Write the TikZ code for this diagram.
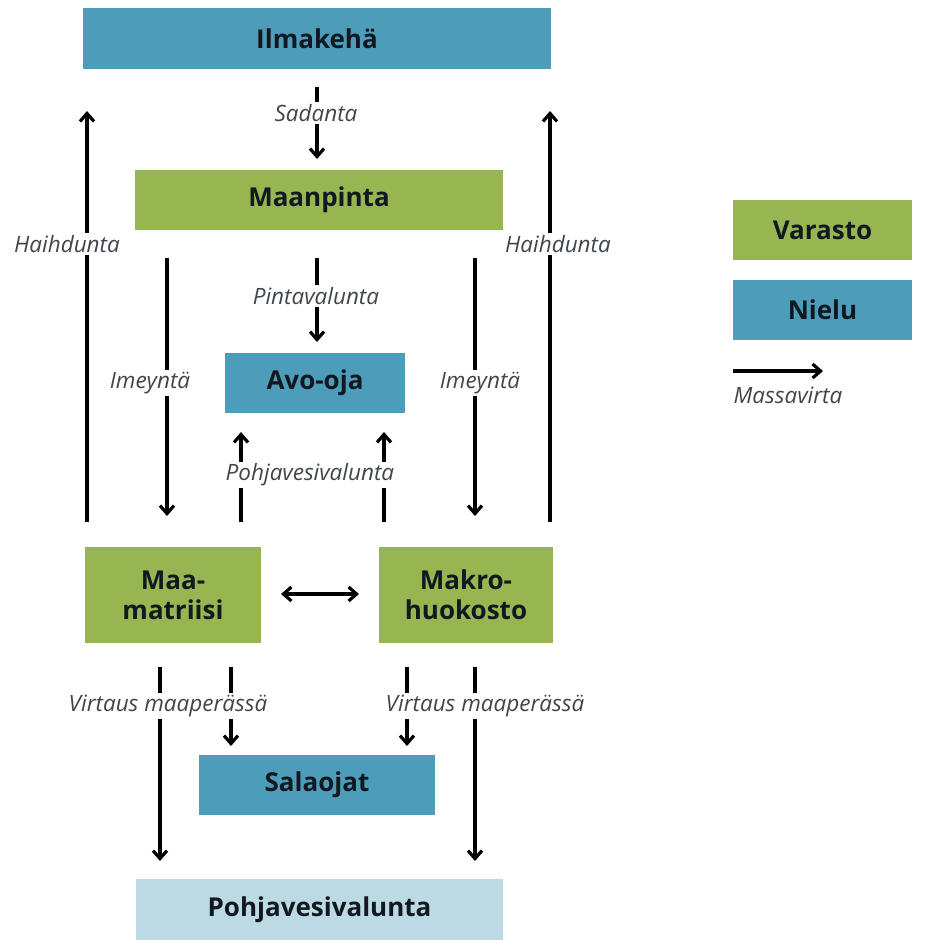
\documentclass[tikz,border=0pt]{standalone}
\usepackage{fontspec}
\setmainfont{Open Sans}
\usetikzlibrary{arrows.meta,calc}
\definecolor{sinkblue}{RGB}{76,156,186}
\definecolor{storegreen}{RGB}{151,182,82}
\definecolor{lightsink}{RGB}{188,218,228}
\definecolor{txt}{RGB}{18,24,32}
\tikzset{
  box/.style={draw=none,inner sep=0pt,text=txt,font=\fontsize{26}{30}\selectfont\bfseries,align=center},
  sink/.style={box,fill=sinkblue},
  store/.style={box,fill=storegreen},
  lbl/.style={fill=white,inner sep=2pt,text=txt!80,font=\fontsize{22.5}{26}\selectfont\itshape},
  flow/.style={line width=3.4pt,-{Straight Barb[length=8pt,width=14pt,line width=3.2pt]}},
  flow2/.style={line width=3.4pt,{Straight Barb[length=8pt,width=14pt,line width=3.2pt]}-{Straight Barb[length=8pt,width=14pt,line width=3.2pt]}}
}
\begin{document}
\begin{tikzpicture}[x=1pt,y=-1pt]
\path[use as bounding box] (0,0) rectangle (934,940);
% boxes
\node[sink,minimum width=468pt,minimum height=61pt] (ilma) at (317,38.5) {Ilmakehä};
\node[store,minimum width=368pt,minimum height=60pt] (maan) at (319,200) {Maanpinta};
\node[sink,minimum width=180pt,minimum height=60pt] (avo) at (315,383) {Avo-oja};
\node[store,minimum width=176pt,minimum height=96pt] (matr) at (173,595) {Maa-\\matriisi};
\node[store,minimum width=174pt,minimum height=96pt] (makro) at (466,595) {Makro-\\huokosto};
\node[sink,minimum width=236pt,minimum height=60pt] (sala) at (317,785) {Salaojat};
\node[box,fill=lightsink,minimum width=367pt,minimum height=62pt] (pohja) at (319.5,910) {Pohjavesivalunta};
% legend
\node[store,minimum width=179pt,minimum height=60pt] (var) at (822.5,230) {Varasto};
\node[sink,minimum width=179pt,minimum height=60pt] (niel) at (822.5,310) {Nielu};
\coordinate (lg1) at (733,371);
\coordinate (lg2) at (823,371);
\draw[flow] (lg1) -- (lg2);
\node[lbl] (lgl) at (788,395) {Massavirta};
% coordinates
\coordinate (hl1) at (87,522); \coordinate (hl2) at (87,111);
\coordinate (hr1) at (550,522); \coordinate (hr2) at (550,111);
\coordinate (s1) at (317,87); \coordinate (s2) at (317,159);
\coordinate (p1) at (317,258); \coordinate (p2) at (317,342);
\coordinate (il1) at (167,258); \coordinate (il2) at (167,516);
\coordinate (ir1) at (475,258); \coordinate (ir2) at (475,516);
\coordinate (ul1) at (241,522); \coordinate (ul2) at (241,432);
\coordinate (ur1) at (384,522); \coordinate (ur2) at (384,432);
\coordinate (d1) at (281,594); \coordinate (d2) at (359,594);
\coordinate (vl1) at (160,667); \coordinate (vl2) at (160,861);
\coordinate (vs1) at (231,667); \coordinate (vs2) at (231,746);
\coordinate (vr1) at (407,667); \coordinate (vr2) at (407,746);
\coordinate (vR1) at (475,667); \coordinate (vR2) at (475,861);
% arrows
\draw[flow] (hl1) -- (hl2);
\draw[flow] (hr1) -- (hr2);
\draw[flow] (s1) -- (s2);
\draw[flow] (p1) -- (p2);
\draw[flow] (il1) -- (il2);
\draw[flow] (ir1) -- (ir2);
\draw[flow] (ul1) -- (ul2);
\draw[flow] (ur1) -- (ur2);
\draw[flow2] (d1) -- (d2);
\draw[flow] (vl1) -- (vl2);
\draw[flow] (vs1) -- (vs2);
\draw[flow] (vr1) -- (vr2);
\draw[flow] (vR1) -- (vR2);
% labels
\node[lbl] (lh1) at (67,244) {Haihdunta};
\node[lbl] (lh2) at (558,244) {Haihdunta};
\node[lbl] (ls) at (316,113) {Sadanta};
\node[lbl] (lp) at (316,296) {Pintavalunta};
\node[lbl] (li1) at (150,383) {Imeyntä};
\node[lbl] (li2) at (480,383) {Imeyntä};
\node[lbl] (lpv) at (310,475) {Pohjavesivalunta};
\node[lbl] (lv1) at (168,706) {Virtaus maaperässä};
\node[lbl] (lv2) at (485,706) {Virtaus maaperässä};
\end{tikzpicture}
\end{document}
